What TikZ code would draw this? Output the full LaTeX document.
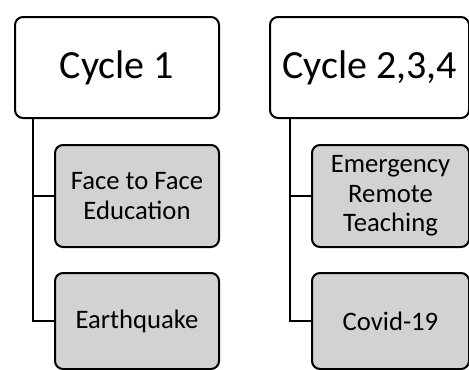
\documentclass[tikz,border=0pt]{standalone}
\usepackage{fontspec}
\setmainfont{Carlito}
\begin{document}
\begin{tikzpicture}[x=0.75pt,y=-0.75pt,
  box/.style={draw=black, line width=1.5pt, rounded corners=6pt, anchor=north west,
    align=center, inner sep=0pt},
  headbox/.style={box, fill=white, font=\fontsize{30}{36}\selectfont},
  itembox/.style={box, fill=gray!35, font=\fontsize{20}{22}\selectfont},
  link/.style={draw=black, line width=1.5pt}]
\useasboundingbox (0,0) rectangle (469,369);
\clip (0,0) rectangle (469,369);

% first column
\node[headbox, minimum width=204*0.75pt, minimum height=101*0.75pt] (c1) at (14,16) {Cycle 1};
\node[itembox, minimum width=164*0.75pt, minimum height=102*0.75pt] (f1) at (54,144) {Face to Face\\Education};
\node[itembox, minimum width=164*0.75pt, minimum height=96*0.75pt] (e1) at (54,272) {Earthquake};
\coordinate (s1) at (33,117);
\draw[link] (s1) |- (f1.west);
\draw[link] (s1) |- (e1.west);

% second column
\node[headbox, minimum width=199*0.75pt, minimum height=101*0.75pt] (c2) at (269,16) {Cycle 2,3,4};
\node[itembox, minimum width=157*0.75pt, minimum height=102*0.75pt] (r2) at (311,144) {Emergency\\Remote\\Teaching};
\node[itembox, minimum width=157*0.75pt, minimum height=96*0.75pt] (v2) at (311,272) {Covid-19};
\coordinate (s2) at (290,117);
\draw[link] (s2) |- (r2.west);
\draw[link] (s2) |- (v2.west);
\end{tikzpicture}
\end{document}
